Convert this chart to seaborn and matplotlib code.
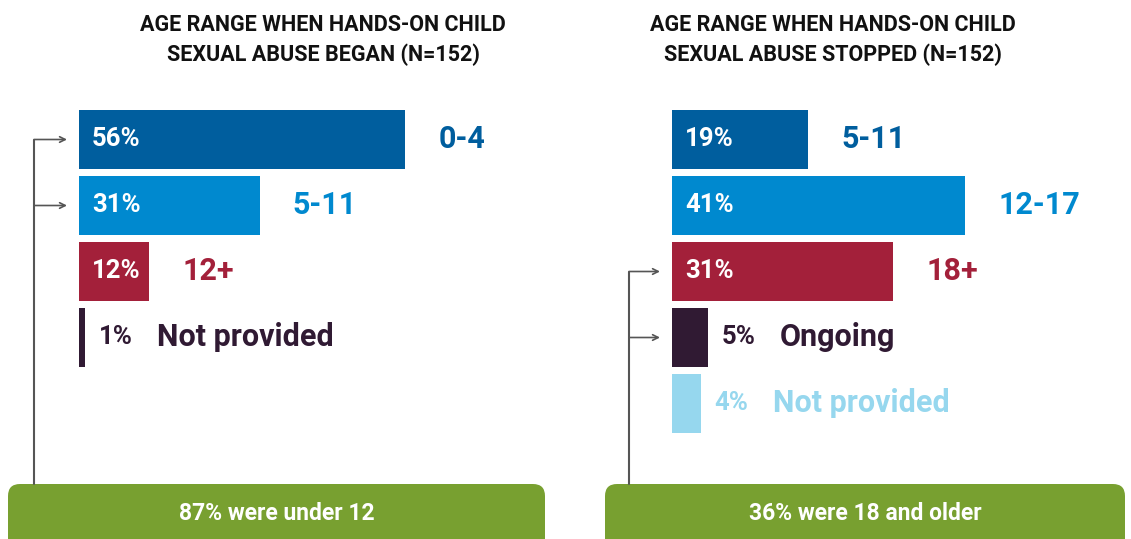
import pandas as pd
import seaborn as sns
import matplotlib.pyplot as plt
from matplotlib.patches import FancyBboxPatch
from matplotlib.lines import Line2D
from matplotlib.transforms import IdentityTransform

# Dados dos dois painéis
began_labels = ['0-4', '5-11', '12+', 'Not provided']
began_pct = [56, 31, 12, 1]
began_colors = ['#005E9E', '#0089CF', '#A3203A', '#301A33']

stopped_labels = ['5-11', '12-17', '18+', 'Ongoing', 'Not provided']
stopped_pct = [19, 41, 31, 5, 4]
stopped_colors = ['#005E9E', '#0089CF', '#A3203A', '#301A33', '#96D7EE']

titles = ['AGE RANGE WHEN HANDS-ON CHILD\nSEXUAL ABUSE BEGAN (N=152)',
          'AGE RANGE WHEN HANDS-ON CHILD\nSEXUAL ABUSE STOPPED (N=152)']
summaries = ['87% were under 12', '36% were 18 and older']
grouped = [[0, 1], [2, 3]]  # barras ligadas ao resumo

GREEN = '#78A030'
LINE = '#555555'

sns.set_style('white')
plt.rcParams['font.family'] = ['Roboto', 'DejaVu Sans']
plt.rcParams['font.weight'] = 'bold'

W, H = 1131, 539
fig = plt.figure(figsize=(W / 100, H / 100), dpi=100)

# posição dos eixos em pixels
panels = [
    dict(left=79, width=466, xmax=80, labels=began_labels, pct=began_pct,
         colors=began_colors, title_x=323, box=(8, 537), arrow_x=34),
    dict(left=672, width=453, xmax=63.4, labels=stopped_labels, pct=stopped_pct,
         colors=stopped_colors, title_x=833, box=(605, 520), arrow_x=629),
]
top_px, bottom_px = 106.5, 436.5

for k, p in enumerate(panels):
    ax = fig.add_axes([p['left'] / W, 1 - bottom_px / H,
                       p['width'] / W, (bottom_px - top_px) / H])
    df = pd.DataFrame({'label': p['labels'], 'pct': p['pct']})
    sns.barplot(data=df, x='pct', y='label', hue='label', palette=p['colors'],
                legend=False, width=0.894, saturation=1, linewidth=0,
                orient='h', ax=ax)
    ax.set_xlim(0, p['xmax'])
    ax.set_ylim(4.5, -0.5)
    ax.axis('off')

    for i, (lab, v, c) in enumerate(zip(p['labels'], p['pct'], p['colors'])):
        if v >= 10:
            ax.annotate(f'{v}%', xy=(0, i), xytext=(9.4, 0), textcoords='offset points',
                        color='white', fontsize=18.5, va='center', ha='left')
            ax.annotate(lab, xy=(v, i), xytext=(24, 0), textcoords='offset points',
                        color=c, fontsize=22, va='center', ha='left')
        else:
            ax.annotate(f'{v}%', xy=(v, i), xytext=(10, 0), textcoords='offset points',
                        color=c, fontsize=18.5, va='center', ha='left')
            ax.annotate(lab, xy=(v, i), xytext=(52, 0), textcoords='offset points',
                        color=c, fontsize=22, va='center', ha='left')

    # título
    fig.text(p['title_x'] / W, 1 - 40 / H, titles[k], ha='center', va='center',
             fontsize=15.5, color='#111111', linespacing=1.4)

    # caixa verde de resumo
    bx, bw = p['box']
    fig.add_artist(FancyBboxPatch((bx, H - 560), bw, 76,
                                  boxstyle='round,pad=0,rounding_size=12',
                                  transform=IdentityTransform(), fc=GREEN, ec='none'))
    fig.text((bx + bw / 2) / W, 1 - 513 / H, summaries[k], ha='center', va='center',
             fontsize=16.5, color='white')

    # conectores
    ax_x = p['arrow_x']
    ys = []
    for i in grouped[k]:
        ax.annotate('', xy=(p['left'] - 12, i), xytext=(ax_x, i),
                    xycoords=('figure pixels', 'data'),
                    textcoords=('figure pixels', 'data'),
                    arrowprops=dict(arrowstyle='->', color=LINE, lw=1.2,
                                    shrinkA=0, shrinkB=0))
        ys.append(ax.transData.transform((0, i))[1])
    fig.add_artist(Line2D([ax_x, ax_x], [max(ys), H - 484], transform=IdentityTransform(),
                          color=LINE, lw=1.5))

fig.savefig('out.png', dpi=100)
